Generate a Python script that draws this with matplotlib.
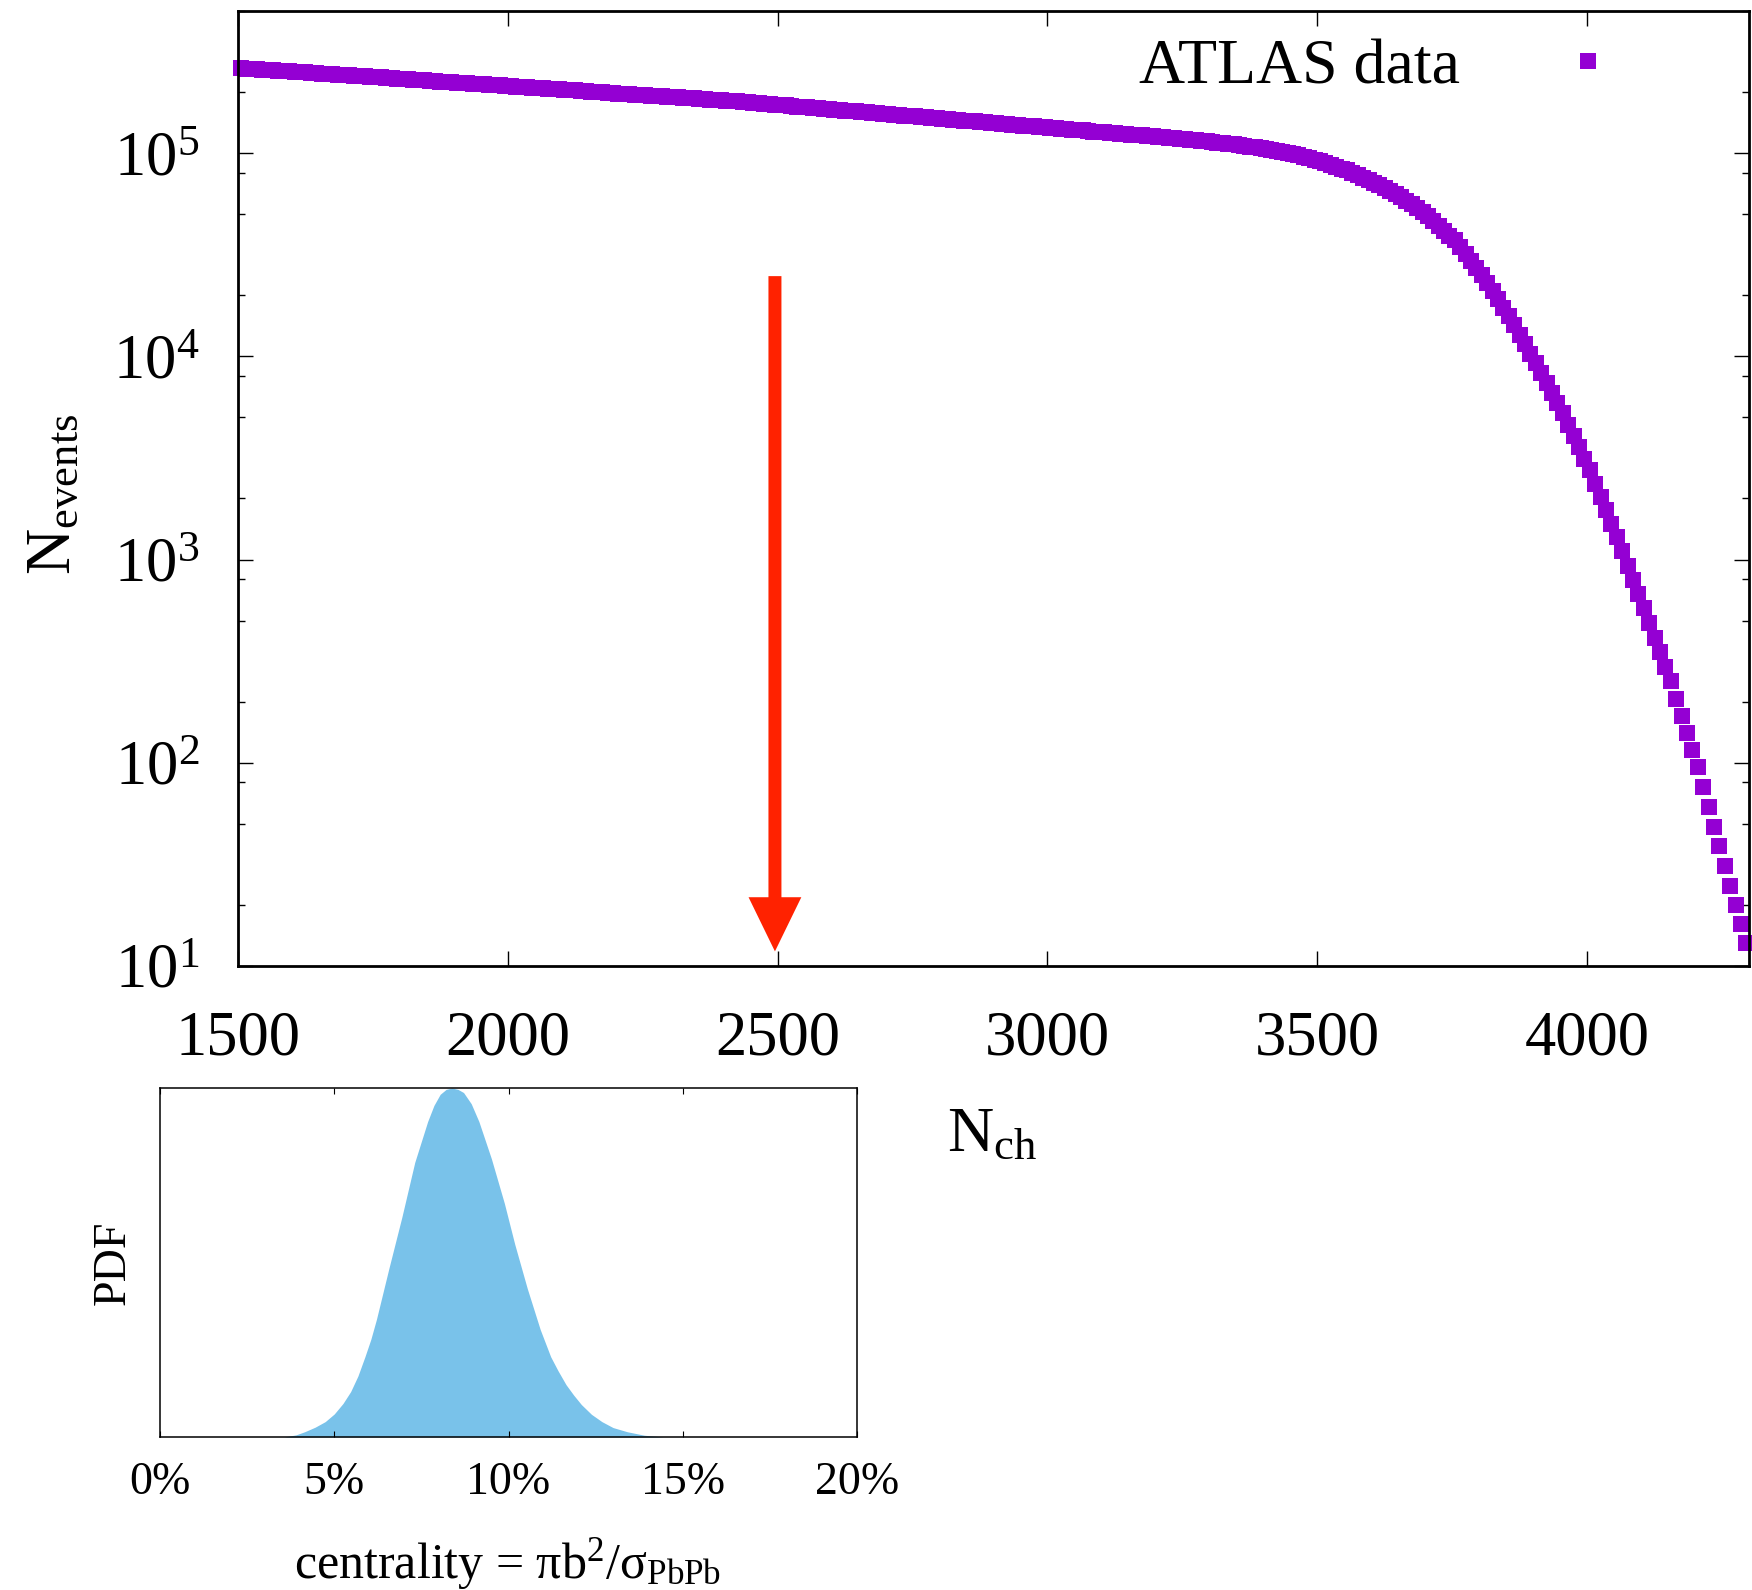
import numpy as np
import matplotlib
matplotlib.use('Agg')
import matplotlib.pyplot as plt
from matplotlib.ticker import FixedLocator, NullFormatter

plt.rcParams['font.family'] = ['Liberation Serif', 'DejaVu Serif']
plt.rcParams['mathtext.fontset'] = 'custom'
plt.rcParams['mathtext.rm'] = 'Liberation Serif'
plt.rcParams['mathtext.it'] = 'Liberation Serif:italic'
plt.rcParams['mathtext.bf'] = 'Liberation Serif:bold'

# bin centres of the multiplicity histogram (10 wide)
nch = np.arange(1505, 4300, 10)

# log10 of event counts
log_nevents = [
    5.418, 5.416, 5.414, 5.413, 5.411, 5.409, 5.407, 5.406, 5.404, 5.402,
    5.400, 5.398, 5.397, 5.395, 5.393, 5.391, 5.390, 5.388, 5.386, 5.384,
    5.382, 5.381, 5.379, 5.377, 5.375, 5.374, 5.372, 5.370, 5.368, 5.366,
    5.365, 5.363, 5.361, 5.359, 5.358, 5.356, 5.354, 5.352, 5.350, 5.349,
    5.347, 5.345, 5.343, 5.342, 5.340, 5.338, 5.336, 5.334, 5.333, 5.331,
    5.329, 5.327, 5.326, 5.324, 5.322, 5.320, 5.318, 5.317, 5.315, 5.313,
    5.311, 5.310, 5.308, 5.306, 5.304, 5.302, 5.301, 5.299, 5.297, 5.295,
    5.293, 5.292, 5.290, 5.288, 5.286, 5.285, 5.283, 5.281, 5.279, 5.277,
    5.276, 5.274, 5.272, 5.270, 5.269, 5.267, 5.265, 5.263, 5.261, 5.260,
    5.258, 5.256, 5.254, 5.251, 5.249, 5.247, 5.245, 5.242, 5.240, 5.238,
    5.236, 5.234, 5.231, 5.229, 5.227, 5.225, 5.222, 5.220, 5.218, 5.216,
    5.213, 5.211, 5.209, 5.207, 5.205, 5.202, 5.200, 5.198, 5.196, 5.193,
    5.191, 5.189, 5.187, 5.184, 5.182, 5.180, 5.178, 5.176, 5.173, 5.171,
    5.169, 5.167, 5.164, 5.162, 5.160, 5.158, 5.156, 5.153, 5.151, 5.149,
    5.147, 5.144, 5.142, 5.140, 5.138, 5.135, 5.133, 5.131, 5.129, 5.127,
    5.124, 5.122, 5.120, 5.118, 5.115, 5.113, 5.111, 5.109, 5.106, 5.104,
    5.102, 5.100, 5.098, 5.095, 5.093, 5.091, 5.089, 5.087, 5.084, 5.082,
    5.080, 5.078, 5.075, 5.073, 5.070, 5.068, 5.065, 5.063, 5.060, 5.057,
    5.054, 5.051, 5.049, 5.046, 5.043, 5.040, 5.036, 5.032, 5.028, 5.024,
    5.020, 5.015, 5.010, 5.005, 5.000, 4.995, 4.988, 4.981, 4.974, 4.967,
    4.960, 4.951, 4.942, 4.933, 4.924, 4.915, 4.903, 4.891, 4.879, 4.867,
    4.855, 4.841, 4.827, 4.813, 4.799, 4.785, 4.766, 4.747, 4.728, 4.709,
    4.690, 4.666, 4.642, 4.618, 4.594, 4.570, 4.536, 4.502, 4.468, 4.434,
    4.400, 4.360, 4.320, 4.280, 4.240, 4.200, 4.153, 4.106, 4.059, 4.012,
    3.965, 3.916, 3.867, 3.818, 3.769, 3.720, 3.664, 3.608, 3.552, 3.496,
    3.440, 3.374, 3.308, 3.242, 3.176, 3.110, 3.040, 2.970, 2.900, 2.830,
    2.760, 2.688, 2.616, 2.544, 2.472, 2.400, 2.316, 2.232, 2.148, 2.064,
    1.980, 1.882, 1.784, 1.686, 1.588, 1.490, 1.396, 1.302, 1.208, 1.115,
]
nevents = 10 ** np.array(log_nevents)

xticks = [1500, 2000, 2500, 3000, 3500, 4000]
yticks = [1e1, 1e2, 1e3, 1e4, 1e5]
ytick_labels = [r'$\mathregular{10^{%d}}$' % e for e in range(1, 6)]
yminor = [m * 10 ** e for e in range(1, 6) for m in (2, 5, 8)]

# centrality distribution of the selected events (inset)
cent = [3.56, 3.90, 4.15, 4.45, 4.74, 5.00, 5.25, 5.47, 5.68, 5.88, 6.05, 6.21,
        6.57, 6.94, 7.31, 7.68, 7.86, 8.04, 8.21, 8.38, 8.55, 8.71, 8.93, 9.15,
        9.51, 9.88, 10.18, 10.54, 10.91, 11.21, 11.42, 11.65, 11.87, 12.09,
        12.38, 12.68, 13.00, 13.41, 13.90, 14.44]
pdf = [0.0, 0.006, 0.015, 0.028, 0.044, 0.066, 0.096, 0.13, 0.175, 0.23, 0.28, 0.337,
       0.484, 0.63, 0.787, 0.904, 0.95, 0.982, 0.996, 1.0, 0.996, 0.987, 0.955, 0.904,
       0.797, 0.67, 0.552, 0.425, 0.308, 0.23, 0.19, 0.15, 0.12, 0.093,
       0.065, 0.044, 0.027, 0.015, 0.005, 0.0]
cent_ticks = [0, 5, 10, 15, 20]
cent_labels = ['0%', '5%', '10%', '15%', '20%']

arrow_x = 2495
arrow_from = 2.48e4
arrow_to = 11.8

W, H = 1752, 1590
fig = plt.figure(figsize=(W / 100, H / 100), dpi=100)

ax = fig.add_axes([238 / W, 1 - 966 / H, 1511 / W, 955 / H])
ax.plot(nch, nevents, 's', color='#9400d3', ms=12, mew=0, clip_on=False,
        label='ATLAS data')
ax.set_yscale('log')
ax.set_xlim(1500, 4300)
ax.set_ylim(10, 5e5)
ax.set_xticks(xticks)
ax.set_xticklabels([str(t) for t in xticks])
ax.set_yticks(yticks)
ax.set_yticklabels(ytick_labels)
ax.yaxis.set_minor_locator(FixedLocator(yminor))
ax.yaxis.set_minor_formatter(NullFormatter())
ax.xaxis.set_minor_locator(FixedLocator([]))
ax.tick_params(which='both', direction='in', top=True, right=True)
ax.tick_params(which='major', length=11, width=1.0)
ax.tick_params(which='minor', length=5, width=1.0)
ax.tick_params(axis='x', pad=32, labelsize=45)
ax.tick_params(axis='y', pad=28, labelsize=45)
for s in ax.spines.values():
    s.set_linewidth(2.0)

ax.annotate('', xy=(arrow_x, arrow_to), xytext=(arrow_x, arrow_from),
            arrowprops=dict(arrowstyle='simple,head_length=0.78,head_width=0.76,tail_width=0.187',
                            mutation_scale=50, color='#ff2200', lw=0,
                            shrinkA=0, shrinkB=0))

ax.legend(loc='center right', bbox_to_anchor=(0.9524, 0.9405), markerfirst=False,
          frameon=False, fontsize=46, handlelength=2.0, handletextpad=1.0,
          borderaxespad=0, numpoints=1)

fig.text(55 / W, 1 - 494 / H, r'$\mathregular{N_{events}}$', rotation=90,
         ha='center', va='center', fontsize=46)
fig.text(947 / W, 1 - 1151 / H, r'$\mathregular{N_{ch}}$', ha='left',
         va='baseline', fontsize=46)

# inset
ax2 = fig.add_axes([160 / W, 1 - 1437 / H, 697 / W, 349 / H])
ax2.fill_between(cent, pdf, color='#79c2ea', lw=0)
ax2.set_xlim(0, 20)
ax2.set_ylim(0, 1)
ax2.set_xticks(cent_ticks)
ax2.set_xticklabels(cent_labels)
ax2.set_yticks([])
ax2.tick_params(direction='in', top=True, length=4.5, width=0.8, labelsize=33, pad=18)
for s in ax2.spines.values():
    s.set_linewidth(1.1)

fig.text(113 / W, 1 - 1263 / H, 'PDF', rotation=90, ha='center', va='center',
         fontsize=33)
fig.text(508 / W, 1 - 1578 / H, r'centrality = $\mathregular{\pi b^{2}/\sigma_{PbPb}}$',
         ha='center', va='baseline', fontsize=36)

fig.savefig('out.png', dpi=100)
